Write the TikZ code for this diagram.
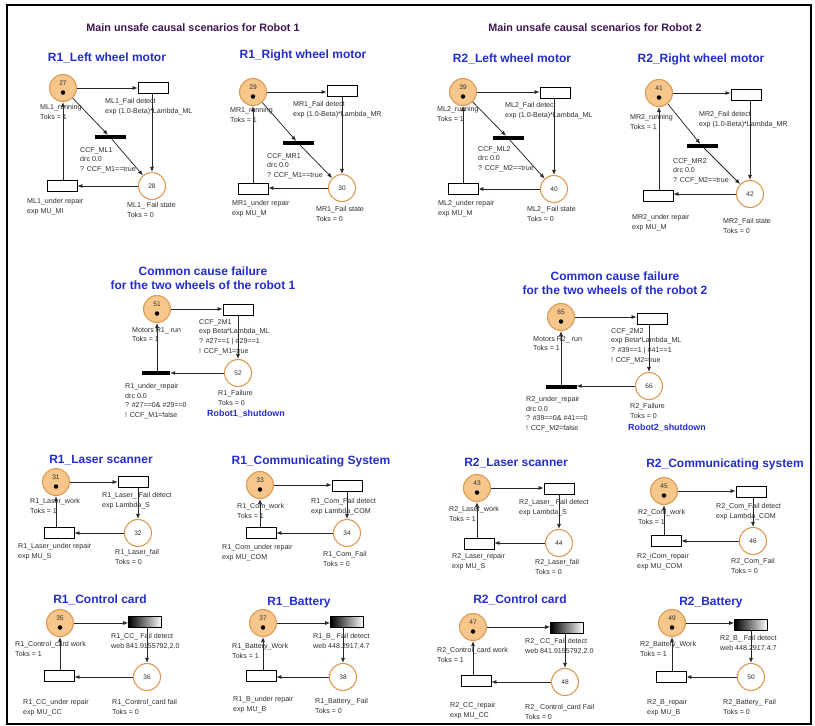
\documentclass[tikz,border=0pt]{standalone}
\usepackage{fontspec}
\setmainfont{Liberation Sans}
\usetikzlibrary{arrows.meta}
\definecolor{placefill}{RGB}{246,198,138}
\definecolor{placeedge}{RGB}{222,154,82}
\definecolor{titleblue}{RGB}{35,45,205}
\definecolor{headpurple}{RGB}{62,22,82}
\definecolor{labelgrey}{RGB}{45,45,45}

% running place: orange, with its number and one token
\newcommand{\RunPlace}[3]{%
  \node[run] (#1) at #2 {};
  \node[num] (#1n) at ([yshift=5pt]#1.center) {#3};
  \node[tok] (#1t) at ([yshift=-4.5pt]#1.center) {};}
% failure place: white with orange rim
\newcommand{\FailPlace}[3]{%
  \node[failp] (#1) at #2 {};
  \node[num] (#1n) at (#1.center) {#3};}
% work -> fail detect -> fail state -> repair -> work
\newcommand{\RepairLoop}[4]{%
  \draw[arc] (#1) -- (#2.west |- #1);
  \draw[arc] (#2.south -| #3) -- (#3);
  \draw[arc] (#3) -- (#4.east |- #3);
  \draw[arc] (#4.north -| #1) -- (#1);}
% text label, x and y of the first line
\newcommand{\Lbl}[4]{\node[lbl] (#1) at (#2,#3-3.8) {#4};}

\begin{document}
\begin{tikzpicture}[x=1pt,y=-1pt,
  arc/.style={draw=black!85, line width=0.75pt, -{Latex[length=5pt,width=4pt]}},
  run/.style={circle, minimum size=27pt, inner sep=0pt, fill=placefill, draw=placeedge, line width=1.1pt},
  failp/.style={circle, minimum size=27pt, inner sep=0pt, fill=white, draw=placeedge, line width=1.1pt},
  trans/.style={rectangle, minimum width=30pt, minimum height=11pt, inner sep=0pt, draw=black, line width=0.8pt, fill=white},
  wtrans/.style={trans, minimum width=33pt, left color=black, right color=white},
  imm/.style={rectangle, minimum width=31pt, minimum height=3.8pt, inner sep=0pt, fill=black},
  lbl/.style={anchor=north west, inner sep=0pt, align=left, font=\fontsize{7.1}{9.6}\selectfont, text=labelgrey},
  num/.style={inner sep=0pt, font=\fontsize{6.6}{7}\selectfont, text=labelgrey},
  tok/.style={circle, fill=black, inner sep=0pt, minimum size=4.5pt},
  ttl/.style={inner sep=0pt, align=center, font=\fontsize{12}{14}\selectfont\bfseries, text=titleblue},
  hdr/.style={inner sep=0pt, font=\fontsize{10.8}{13}\selectfont\bfseries, text=headpurple},
  shut/.style={anchor=west, inner sep=0pt, font=\fontsize{8.9}{10}\selectfont\bfseries, text=titleblue},
]
\useasboundingbox (0,0) rectangle (815,726);
\draw[line width=1.5pt] (7,5) rectangle (811,724);

% ---------- headers ----------
\node[hdr] (h1) at (193,28) {Main unsafe causal scenarios for Robot 1};
\node[hdr] (h2) at (595,28) {Main unsafe causal scenarios for Robot 2};

% ---------- R1 left wheel motor ----------
\node[ttl] (tR1L) at (107,58) {R1\_Left wheel motor};
\RunPlace{p27}{(63,88)}{27}
\node[trans] (f27) at (153,88) {};
\node[imm] (c27) at (110,137) {};
\FailPlace{p28}{(152,186)}{28}
\node[trans] (r27) at (62,186) {};
\RepairLoop{p27}{f27}{p28}{r27}
\draw[arc] (p27) -- (c27);
\draw[arc] (c27) -- (p28);
\Lbl{l27a}{40}{108}{ML1\_running\\Toks = 1}
\Lbl{l27b}{105}{102}{ML1\_Fail detect\\exp (1.0-Beta)*Lambda\_ML}
\Lbl{l27c}{80}{151}{CCF\_ML1\\drc 0.0\\? CCF\_M1==true}
\Lbl{l27d}{27}{202}{ML1\_under repair\\exp MU\_MI}
\Lbl{l27e}{127}{206}{ML1\_ Fail state\\Toks = 0}

% ---------- R1 right wheel motor ----------
\node[ttl] (tR1R) at (303,55) {R1\_Right wheel motor};
\RunPlace{p29}{(253,92)}{29}
\node[trans] (f29) at (342,91) {};
\node[imm] (c29) at (298,143) {};
\FailPlace{p30}{(342,188)}{30}
\node[trans] (r29) at (253,189) {};
\RepairLoop{p29}{f29}{p30}{r29}
\draw[arc] (p29) -- (c29);
\draw[arc] (c29) -- (p30);
\Lbl{l29a}{230}{111}{MR1\_running\\Toks = 1}
\Lbl{l29b}{293}{105}{MR1\_Fail detect\\exp (1.0-Beta)*Lambda\_MR}
\Lbl{l29c}{267}{157}{CCF\_MR1\\drc 0.0\\? CCF\_M1==true}
\Lbl{l29d}{232}{204}{MR1\_under repair\\exp MU\_M}
\Lbl{l29e}{316}{210}{MR1\_Fail state\\Toks = 0}

% ---------- R2 left wheel motor ----------
\node[ttl] (tR2L) at (512,59) {R2\_Left wheel motor};
\RunPlace{p39}{(463,92)}{39}
\node[trans] (f39) at (555,93) {};
\node[imm] (c39) at (508,138) {};
\FailPlace{p40}{(554,189)}{40}
\node[trans] (r39) at (463,189) {};
\RepairLoop{p39}{f39}{p40}{r39}
\draw[arc] (p39) -- (c39);
\draw[arc] (c39) -- (p40);
\Lbl{l39a}{437}{110}{ML2\_running\\Toks = 1}
\Lbl{l39b}{505}{106}{ML2\_Fail detect\\exp (1.0-Beta)*Lambda\_ML}
\Lbl{l39c}{478}{150}{CCF\_ML2\\drc 0.0\\? CCF\_M2==true}
\Lbl{l39d}{438}{204}{ML2\_under repair\\exp MU\_M}
\Lbl{l39e}{527}{210}{ML2\_ Fail state\\Toks = 0}

% ---------- R2 right wheel motor ----------
\node[ttl] (tR2R) at (701,59) {R2\_Right wheel motor};
\RunPlace{p41}{(659,93)}{41}
\node[trans] (f41) at (746,95) {};
\node[imm] (c41) at (702,146) {};
\FailPlace{p42}{(750,194)}{42}
\node[trans] (r41) at (658,196) {};
\RepairLoop{p41}{f41}{p42}{r41}
\draw[arc] (p41) -- (c41);
\draw[arc] (c41) -- (p42);
\Lbl{l41a}{630}{118}{MR2\_running\\Toks = 1}
\Lbl{l41b}{699}{115}{MR2\_Fail detect\\exp (1.0-Beta)*Lambda\_MR}
\Lbl{l41c}{673}{162}{CCF\_MR2\\drc 0.0\\? CCF\_M2==true}
\Lbl{l41d}{632}{218}{MR2\_under repair\\exp MU\_M}
\Lbl{l41e}{723}{222}{MR2\_Fail state\\Toks = 0}

% ---------- common cause failure, robot 1 ----------
\node[ttl] (tC1) at (203,278) {Common cause failure\\for the two wheels of the robot 1};
\RunPlace{p51}{(157,309)}{51}
\node[trans] (f51) at (238,310) {};
\FailPlace{p52}{(238,373)}{52}
\node[imm, minimum width=28pt] (c51) at (156,373) {};
\draw[arc] (p51) -- (f51.west |- p51);
\draw[arc] (f51.south -| p52) -- (p52);
\draw[arc] (p52) -- (c51.east |- p52);
\draw[arc] (c51.north -| p51) -- (p51);
\Lbl{l51a}{132}{331}{Motors R1\_ run\\Toks = 1}
\Lbl{l51b}{199}{323}{CCF\_2M1\\exp Beta*Lambda\_ML\\? \#27==1 | \#29==1\\! CCF\_M1=true}
\Lbl{l51c}{125}{387}{R1\_under\_repair\\drc 0.0\\? \#27==0\& \#29==0\\! CCF\_M1=false}
\Lbl{l51d}{218}{394}{R1\_Failure\\Toks = 0}
\node[shut] (s1) at (207,414) {Robot1\_shutdown};

% ---------- common cause failure, robot 2 ----------
\node[ttl] (tC2) at (615,283) {Common cause failure\\for the two wheels of the robot 2};
\RunPlace{p65}{(561,317)}{65}
\node[trans] (f65) at (652,319) {};
\FailPlace{p66}{(649,386)}{66}
\node[imm] (c65) at (561,387) {};
\draw[arc] (p65) -- (f65.west |- p65);
\draw[arc] (f65.south -| p66) -- (p66);
\draw[arc] (p66) -- (c65.east |- p66);
\draw[arc] (c65.north -| p65) -- (p65);
\Lbl{l65a}{533}{340}{Motors R2\_ run\\Toks = 1}
\Lbl{l65b}{611}{332}{CCF\_2M2\\exp Beta*Lambda\_ML\\? \#39==1 | \#41==1\\! CCF\_M2=true}
\Lbl{l65c}{526}{400}{R2\_under\_repair\\drc 0.0\\? \#39==0\& \#41==0\\! CCF\_M2=false}
\Lbl{l65d}{630}{407}{R2\_Failure\\Toks = 0}
\node[shut] (s2) at (628,428) {Robot2\_shutdown};

% ---------- R1 laser scanner ----------
\node[ttl] (tR1S) at (101,460) {R1\_Laser scanner};
\RunPlace{p31}{(56,482)}{31}
\node[trans] (f31) at (133,482) {};
\FailPlace{p32}{(138,533)}{32}
\node[trans] (r31) at (59,533) {};
\RepairLoop{p31}{f31}{p32}{r31}
\Lbl{l31a}{30}{502}{R1\_Laser\_work\\Toks = 1}
\Lbl{l31b}{102}{496}{R1\_Laser\_ Fail detect\\exp Lambda\_S}
\Lbl{l31c}{18}{547}{R1\_Laser\_under repair\\exp MU\_S}
\Lbl{l31d}{115}{553}{R1\_Laser\_fail\\Toks = 0}

% ---------- R1 communicating system ----------
\node[ttl] (tR1C) at (311,461) {R1\_Communicating System};
\RunPlace{p33}{(260,485)}{33}
\node[trans] (f33) at (347,486) {};
\FailPlace{p34}{(347,533)}{34}
\node[trans] (r33) at (261,533) {};
\RepairLoop{p33}{f33}{p34}{r33}
\Lbl{l33a}{237}{507}{R1\_Com\_work\\Toks = 1}
\Lbl{l33b}{311}{502}{R1\_Com\_Fail detect\\exp Lambda\_COM}
\Lbl{l33c}{222}{548}{R1\_Com\_under repair\\exp MU\_COM}
\Lbl{l33d}{323}{555}{R1\_Com\_Fail\\Toks = 0}

% ---------- R2 laser scanner ----------
\node[ttl] (tR2S) at (516,463) {R2\_Laser scanner};
\RunPlace{p43}{(477,488)}{43}
\node[trans] (f43) at (559,489) {};
\FailPlace{p44}{(559,543)}{44}
\node[trans] (r43) at (479,544) {};
\RepairLoop{p43}{f43}{p44}{r43}
\Lbl{l43a}{449}{510}{R2\_Laser\_work\\Toks = 1}
\Lbl{l43b}{519}{503}{R2\_Laser\_ Fail detect\\exp Lambda\_S}
\Lbl{l43c}{452}{557}{R2\_Laser\_repair\\exp MU\_S}
\Lbl{l43d}{535}{563}{R2\_Laser\_fail\\Toks = 0}

% ---------- R2 communicating system ----------
\node[ttl] (tR2C) at (725,464) {R2\_Communicating system};
\RunPlace{p45}{(664,491)}{45}
\node[trans] (f45) at (751,492) {};
\FailPlace{p46}{(753,541)}{46}
\node[trans] (r45) at (666,541) {};
\RepairLoop{p45}{f45}{p46}{r45}
\Lbl{l45a}{638}{513}{R2\_Com\_work\\Toks = 1}
\Lbl{l45b}{716}{507}{R2\_Com\_Fail detect\\exp Lambda\_COM}
\Lbl{l45c}{637}{557}{R2\_iCom\_repair\\exp MU\_COM}
\Lbl{l45d}{731}{562}{R2\_Com\_Fail\\Toks = 0}

% ---------- R1 control card ----------
\node[ttl] (tR1K) at (100,600) {R1\_Control card};
\RunPlace{p35}{(60,623)}{35}
\node[wtrans] (f35) at (145,622) {};
\FailPlace{p36}{(147,677)}{36}
\node[trans] (r35) at (59,676) {};
\RepairLoop{p35}{f35}{p36}{r35}
\Lbl{l35a}{15}{645}{R1\_Control\_card work\\Toks = 1}
\Lbl{l35b}{111}{637}{R1\_CC\_ Fail detect\\web 841.9155792,2.0}
\Lbl{l35c}{23}{703}{R1\_CC\_under repair\\exp MU\_CC}
\Lbl{l35d}{112}{703}{R1\_Control\_card fail\\Toks = 0}

% ---------- R1 battery ----------
\node[ttl] (tR1B) at (299,603) {R1\_Battery};
\RunPlace{p37}{(263,623)}{37}
\node[wtrans] (f37) at (347,622) {};
\FailPlace{p38}{(343,677)}{38}
\node[trans] (r37) at (261,676) {};
\RepairLoop{p37}{f37}{p38}{r37}
\Lbl{l37a}{232}{647}{R1\_Battery\_Work\\Toks = 1}
\Lbl{l37b}{313}{637}{R1\_B\_ Fail detect\\web 448.2917,4.7}
\Lbl{l37c}{233}{700}{R1\_B\_under repair\\exp MU\_B}
\Lbl{l37d}{315}{702}{R1\_Battery\_ Fail\\Toks = 0}

% ---------- R2 control card ----------
\node[ttl] (tR2K) at (520,600) {R2\_Control card};
\RunPlace{p47}{(473,627)}{47}
\node[wtrans] (f47) at (567,628) {};
\FailPlace{p48}{(565,682)}{48}
\node[trans] (r47) at (476,681) {};
\RepairLoop{p47}{f47}{p48}{r47}
\Lbl{l47a}{437}{651}{R2\_Control\_card work\\Toks = 1}
\Lbl{l47b}{525}{642}{R2\_ CC\_Fail detect\\web 841.9155792,2.0}
\Lbl{l47c}{450}{706}{R2\_CC\_repair\\exp MU\_CC}
\Lbl{l47d}{525}{708}{R2\_ Control\_card Fail\\Toks = 0}

% ---------- R2 battery ----------
\node[ttl] (tR2B) at (711,603) {R2\_Battery};
\RunPlace{p49}{(672,623)}{49}
\node[wtrans] (f49) at (751,625) {};
\FailPlace{p50}{(751,677)}{50}
\node[trans] (r49) at (671,677) {};
\RepairLoop{p49}{f49}{p50}{r49}
\Lbl{l49a}{640}{645}{R2\_Battery\_Work\\Toks = 1}
\Lbl{l49b}{720}{639}{R2\_B\_ Fail detect\\web 448.2917,4.7}
\Lbl{l49c}{647}{703}{R2\_B\_repair\\exp MU\_B}
\Lbl{l49d}{723}{703}{R2\_Battery\_ Fail\\Toks = 0}
\end{tikzpicture}
\end{document}
